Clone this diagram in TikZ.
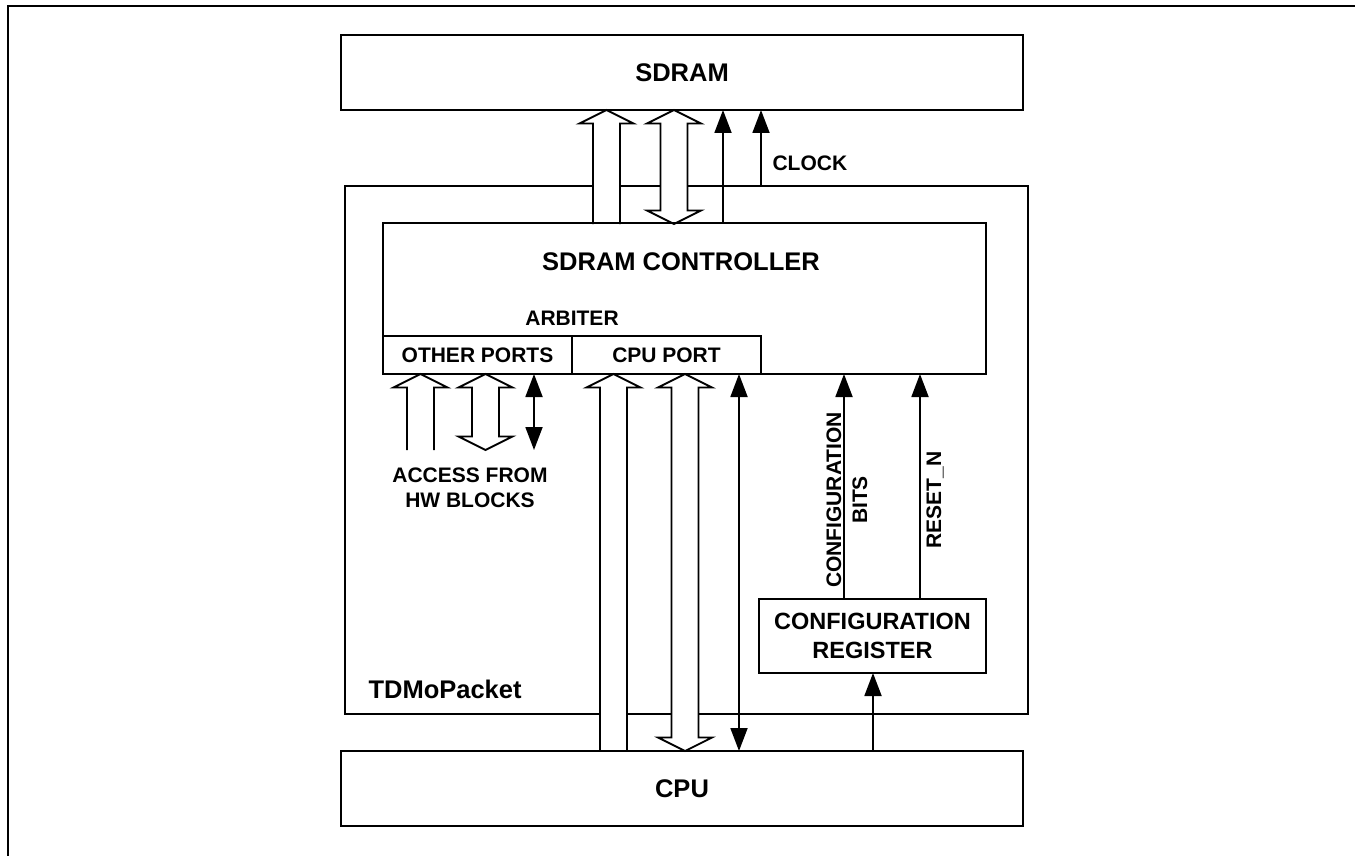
\documentclass[tikz,border=0pt]{standalone}
\usepackage{fontspec}
\setmainfont{Liberation Sans}
\usetikzlibrary{arrows.meta}
\tikzset{
  thickbox/.style={draw, line width=2.8pt, inner sep=0pt, outer sep=0pt},
  thinbox/.style={draw, line width=2pt, inner sep=0pt, outer sep=0pt},
  bigtxt/.style={font=\fontsize{25.5}{29}\selectfont\bfseries},
  regtxt/.style={font=\fontsize{23.5}{29}\selectfont\bfseries},
  smalltxt/.style={font=\fontsize{21}{25}\selectfont\bfseries},
  blk/.style={line width=1.8pt, -{Triangle[length=23pt,width=17pt]}},
  blkdbl/.style={line width=1.8pt, {Triangle[length=23pt,width=17pt]}-{Triangle[length=23pt,width=17pt]}},
  hol/.style={draw, line width=1.8pt, fill=white},
}
\newcommand\hup[3]{\draw[hol] (#1-13.5,#3) -- (#1-13.5,#2+13.5) -- (#1-27,#2+13.5) -- (#1,#2) -- (#1+27,#2+13.5) -- (#1+13.5,#2+13.5) -- (#1+13.5,#3);}
\newcommand\hdbl[3]{\draw[hol] (#1-13.5,#3-13.5) -- (#1-13.5,#2+13.5) -- (#1-27,#2+13.5) -- (#1,#2) -- (#1+27,#2+13.5) -- (#1+13.5,#2+13.5) -- (#1+13.5,#3-13.5) -- (#1+27,#3-13.5) -- (#1,#3) -- (#1-27,#3-13.5) -- cycle;}
\begin{document}
\begin{tikzpicture}[x=1pt,y=-1pt]
\useasboundingbox (0,0) rectangle (1355,856);
% outer frame (left and top edges)
\draw[line width=1.6pt] (8,856) -- (8,6) -- (1355,6);
% TDMoPacket block
\node[thickbox, minimum width=683, minimum height=528] (tdmo) at (686.5,450) {};
\node[bigtxt, anchor=west] (tdmolbl) at (365,689) {TDMoPacket};
% hollow bus arrows
\hup{606.5}{110}{224}
\hdbl{674}{110}{224}
\hup{420.5}{374}{450}
\hdbl{485.5}{374}{450}
\hup{613.5}{374}{751}
\hdbl{685}{374}{751}
% boxes
\node[thickbox, minimum width=682, minimum height=75, bigtxt] (sdram) at (682,72.5) {SDRAM};
\node[thickbox, minimum width=682, minimum height=75, bigtxt] (cpu) at (682,788.5) {CPU};
\node[thinbox, minimum width=603, minimum height=151] (ctrl) at (684.5,298.5) {};
\node[bigtxt] (ctrllbl) at (681,262) {SDRAM CONTROLLER};
\node[smalltxt] (arb) at (572,318) {ARBITER};
\node[thinbox, minimum width=189, minimum height=38, smalltxt] (oports) at (477.5,355) {OTHER PORTS};
\node[thinbox, minimum width=189, minimum height=38, smalltxt] (cport) at (666.5,355) {CPU PORT};
\node[thinbox, minimum width=227, minimum height=74, regtxt, align=center] (creg) at (872.5,636) {CONFIGURATION\\REGISTER};
% labels
\node[smalltxt, anchor=west] (clk) at (769,163) {CLOCK};
\node[smalltxt, align=center] (access) at (470,488) {ACCESS FROM\\HW BLOCKS};
\node[font=\fontsize{21}{26}\selectfont\bfseries, align=center, rotate=90] (cfgbits) at (847,500) {CONFIGURATION\\BITS};
\node[smalltxt, rotate=90] (rstn) at (935,500) {RESET\_N};
% x positions of the single-line connectors
\coordinate (xa) at (723,0);
\coordinate (xc) at (761,0);
\coordinate (xd) at (534,0);
\coordinate (xe) at (739,0);
\coordinate (xf) at (844,0);
\coordinate (xg) at (920,0);
\coordinate (xh) at (873,0);
\coordinate (hwend) at (534,450);
% black connectors
\draw[blk] (ctrl.north -| xa) -- (sdram.south -| xa);
\draw[blk] (tdmo.north -| xc) -- (sdram.south -| xc);
\draw[blkdbl] (oports.south -| xd) -- (hwend);
\draw[blkdbl] (cport.south -| xe) -- (cpu.north -| xe);
\draw[blk] (creg.north -| xf) -- (ctrl.south -| xf);
\draw[blk] (creg.north -| xg) -- (ctrl.south -| xg);
\draw[blk] (cpu.north -| xh) -- (creg.south -| xh);
\end{tikzpicture}
\end{document}
